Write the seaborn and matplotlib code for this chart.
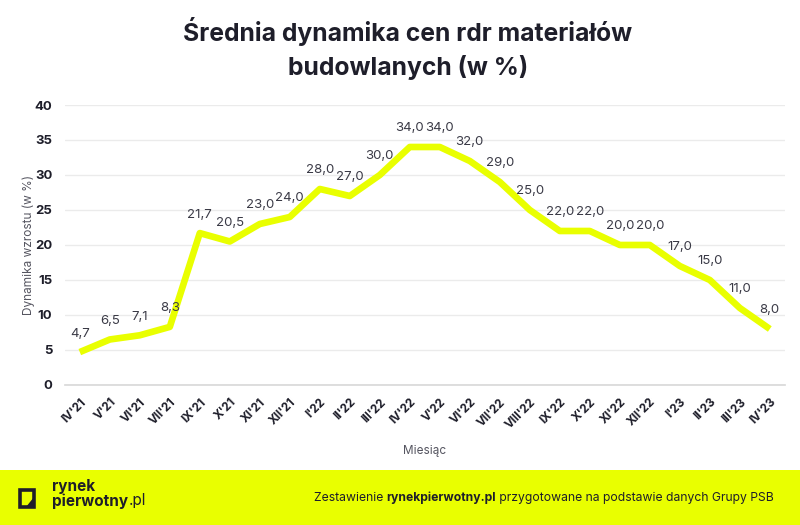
import matplotlib
matplotlib.use("Agg")
import matplotlib.pyplot as plt
import matplotlib.patches as mpatches
import seaborn as sns
import pandas as pd

months = ["IV'21", "V'21", "VI'21", "VII'21", "IX'21", "X'21", "XI'21", "XII'21",
          "I'22", "II'22", "III'22", "IV'22", "V'22", "VI'22", "VII'22", "VIII'22",
          "IX'22", "X'22", "XI'22", "XII'22", "I'23", "II'23", "III'23", "IV'23"]
values = [4.7, 6.5, 7.1, 8.3, 21.7, 20.5, 23.0, 24.0, 28.0, 27.0, 30.0, 34.0,
          34.0, 32.0, 29.0, 25.0, 22.0, 22.0, 20.0, 20.0, 17.0, 15.0, 11.0, 8.0]
y_ticks = [0, 5, 10, 15, 20, 25, 30, 35, 40]

title = "Średnia dynamika cen rdr materiałów\nbudowlanych (w %)"
x_label = "Miesiąc"
y_label = "Dynamika wzrostu (w %)"
footer_parts = [("Zestawienie ", "normal"), ("rynekpierwotny.pl", "bold"),
                (" przygotowane na podstawie danych Grupy PSB", "normal")]

YELLOW = "#E9FF00"
DARK = "#1E1E2A"

sns.set_theme(style="white")
plt.rcParams['font.family'] = ['Inter', 'DejaVu Sans']

df = pd.DataFrame({"idx": range(len(months)), "value": values})

fig = plt.figure(figsize=(8, 5.25), dpi=100)
ax = fig.add_axes([0.081, 0.2667, 0.9, 0.5333])

sns.lineplot(data=df, x="idx", y="value", ax=ax, color=YELLOW, linewidth=4.8,
             sort=False, solid_joinstyle="round", solid_capstyle="butt")

for i, v in enumerate(values):
    ax.annotate(f"{v:.1f}".replace(".", ","), (i, v), xytext=(0, 9),
                textcoords="offset points", ha="center", va="bottom",
                fontsize=9.5, color="#3a3a46")

ax.set_xlim(-0.5, len(months) - 0.5)
ax.set_ylim(0, 40)
ax.set_yticks(y_ticks)
ax.set_yticklabels([str(t) for t in y_ticks], fontsize=9.5, fontweight="bold", color=DARK)
ax.set_xticks(range(len(months)))
ax.set_xticklabels(months, rotation=45, ha="right", rotation_mode="anchor",
                   fontsize=8.5, fontweight="bold", color=DARK)
ax.tick_params(axis="both", length=0)
ax.tick_params(axis="y", pad=9)
ax.tick_params(axis="x", pad=8)
ax.grid(axis="y", color="#EBEBEB", linewidth=1)
for s in ["top", "right", "left"]:
    ax.spines[s].set_visible(False)
ax.spines["bottom"].set_color("#D9D9D9")
ax.set_axisbelow(True)

ax.set_xlabel(x_label, fontsize=8.5, color="#555560", labelpad=10)
ax.set_ylabel(y_label, fontsize=8.5, color="#555560", labelpad=0)

fig.text(0.51, 0.908, title, ha="center", va="center", fontsize=17.8,
         fontweight="bold", color=DARK, linespacing=1.45)

# footer band
fig.patches.append(mpatches.Rectangle((0, 0), 1, 55 / 525, transform=fig.transFigure,
                                      facecolor=YELLOW, edgecolor="none", zorder=0))

fig.canvas.draw()
renderer = fig.canvas.get_renderer()

# footer text laid out right-to-left
x_right = 774
for txt, w in reversed(footer_parts):
    t = fig.text(x_right / 800, 0.051, txt, ha="right", va="center", fontsize=8.75,
                 fontweight=w, color=DARK)
    bb = t.get_window_extent(renderer=renderer)
    x_right = bb.x0

# logo
fig.patches.append(mpatches.Rectangle((20 / 800, 18 / 525), 14 / 800, 17 / 525,
                                      transform=fig.transFigure, facecolor="none",
                                      edgecolor=DARK, linewidth=2.6, zorder=2))
fig.patches.append(mpatches.Polygon([(26 / 800, 18 / 525), (34 / 800, 18 / 525),
                                     (34 / 800, 28 / 525)], closed=True,
                                    transform=fig.transFigure, facecolor=DARK,
                                    edgecolor="none", zorder=2))
fig.text(52 / 800, 38 / 525, "rynek", ha="left", va="center", fontsize=11,
         fontweight="bold", color=DARK)
t2 = fig.text(52 / 800, 24 / 525, "pierwotny", ha="left", va="center",
              fontsize=11, fontweight="bold", color=DARK)
bb = t2.get_window_extent(renderer=renderer)
fig.text((bb.x1 + 0.5) / 800, 24 / 525, ".pl", ha="left", va="center",
         fontsize=11, color=DARK)

fig.savefig("out.png", dpi=100, facecolor="white")
